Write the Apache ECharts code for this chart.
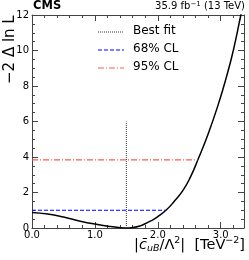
<!DOCTYPE html>
<html><head><meta charset="utf-8">
<script src="https://cdn.jsdelivr.net/npm/echarts@6/dist/echarts.min.js"></script>
<style>html,body{margin:0;padding:0;background:#fff}#c{width:249px;height:260px}</style>
</head><body><div id="c"></div>
<script>
const curveX = [0, 0.25, 0.5, 0.75, 1.0, 1.25, 1.4, 1.5, 1.6, 1.7, 1.8, 1.9, 2.0, 2.13, 2.25, 2.4, 2.52, 2.64, 2.8, 2.96, 3.09, 3.2, 3.32, 3.4];
const curveY = [0.88, 0.79, 0.62, 0.40, 0.22, 0.08, 0.02, 0.0, 0.03, 0.10, 0.24, 0.42, 0.64, 1.0, 1.45, 2.12, 2.88, 3.87, 5.3, 6.95, 8.5, 10.0, 12.0, 13.3];
const bestFit = 1.5;
const bestFitTop = 6;
const cl68 = 1.0, cl68End = 2.13;
const cl95 = 3.84, cl95End = 2.63;
const xTicks = [0, 1, 2, 3];
const yTicks = [0, 2, 4, 6, 8, 10, 12];

const chart = echarts.init(document.getElementById('c'), null, {renderer: 'canvas'});
const FONT = 'DejaVu Sans';
const axisCommon = {
  axisLine: {show: true, onZero: false, lineStyle: {color: '#444', width: 1}},
  axisTick: {show: true, inside: true, length: 6, lineStyle: {color: '#444'}},
  splitLine: {show: false},
  minorSplitLine: {show: false}
};
const option = {
  animation: false,
  grid: {left: 32, right: 5, top: 15, bottom: 32},
  xAxis: [
    Object.assign({type: 'value', min: 0, max: 3.37, interval: 1, position: 'bottom',
      axisLabel: {fontFamily: FONT, fontSize: 10, color: '#000', margin: 2, showMaxLabel: false,
        formatter: v => xTicks.includes(v) ? v.toFixed(1) : ''}}, axisCommon,
      {minorTick: {show: true, splitNumber: 5, length: 3, lineStyle: {color: '#444'}}}),
    Object.assign({type: 'value', min: 0, max: 3.37, interval: 1, position: 'top',
      axisLabel: {show: false}}, axisCommon,
      {minorTick: {show: true, splitNumber: 5, length: 3, lineStyle: {color: '#444'}}})
  ],
  yAxis: [
    Object.assign({type: 'value', min: 0, max: 12, interval: 2, position: 'left',
      axisLabel: {fontFamily: FONT, fontSize: 10, color: '#000', margin: 3,
        formatter: v => yTicks.includes(v) ? String(v) : ''}}, axisCommon,
      {minorTick: {show: true, splitNumber: 4, length: 3, lineStyle: {color: '#444'}}}),
    Object.assign({type: 'value', min: 0, max: 12, interval: 2, position: 'right',
      axisLabel: {show: false}}, axisCommon,
      {minorTick: {show: true, splitNumber: 4, length: 3, lineStyle: {color: '#444'}}})
  ],
  series: [
    {type: 'line', data: curveX.map((x, i) => [x, curveY[i]]), smooth: 0.5, showSymbol: false,
      clip: true, lineStyle: {color: '#000', width: 1.5}},
    {type: 'line', data: [[bestFit, 0], [bestFit, bestFitTop]], showSymbol: false,
      lineStyle: {color: '#333', width: 1, type: [1, 1]}},
    {type: 'line', data: [[0, cl68], [cl68End, cl68]], showSymbol: false,
      lineStyle: {color: '#0000ff', width: 1.2, type: [4, 2]}},
    {type: 'line', data: [[0, cl95], [cl95End, cl95]], showSymbol: false,
      lineStyle: {color: '#ff5a4a', width: 1.2, type: [6, 2, 1, 2]}}
  ],
  graphic: [
    {type: 'text', left: 33, top: 0, style: {text: 'CMS', font: 'bold 11.5px ' + FONT, fill: '#000'}},
    {type: 'text', right: 4, top: 1, style: {
      text: '{a|35.9 fb}{s|−1}{a| (13 TeV)}',
      rich: {a: {fontFamily: FONT, fontSize: 10, fill: '#000'},
             s: {fontFamily: FONT, fontSize: 7, fill: '#000', verticalAlign: 'top', padding: [0,0,3,0]}}}},
    {type: 'text', x: 3, y: 84, rotation: Math.PI / 2, style: {
      text: '−2 Δ ln L', font: '15px ' + FONT, fill: '#000', textAlign: 'left', verticalAlign: 'top'}},
    {type: 'text', right: 4, top: 236, style: {
      text: '{m||}{i|c̄}{sb|uB}{m|/Λ}{sp|2}{m||  [TeV}{sp|−2}{m|]}',
      rich: {m: {fontFamily: FONT, fontSize: 14.5, fill: '#000', verticalAlign: 'middle'},
             i: {fontFamily: FONT, fontSize: 14.5, fontStyle: 'italic', fill: '#000'},
             sb: {fontFamily: FONT, fontSize: 9.5, fontStyle: 'italic', fill: '#000', padding: [8, 0, 0, 0]},
             sp: {fontFamily: FONT, fontSize: 9.5, fill: '#000', padding: [0, 0, 8, 0]}}}},
    {type: 'line', shape: {x1: 98, y1: 32, x2: 124, y2: 32}, style: {stroke: '#333', lineWidth: 1, lineDash: [1, 1]}},
    {type: 'line', shape: {x1: 98, y1: 50, x2: 124, y2: 50}, style: {stroke: '#0000ff', lineWidth: 1.2, lineDash: [4, 2]}},
    {type: 'line', shape: {x1: 98, y1: 68, x2: 124, y2: 68}, style: {stroke: '#ff5a4a', lineWidth: 1.2, lineDash: [6, 2, 1, 2]}},
    {type: 'text', left: 133, top: 25, style: {text: 'Best fit', font: '12px ' + FONT, fill: '#000'}},
    {type: 'text', left: 133, top: 43, style: {text: '68% CL', font: '12px ' + FONT, fill: '#000'}},
    {type: 'text', left: 133, top: 61, style: {text: '95% CL', font: '12px ' + FONT, fill: '#000'}}
  ]
};
chart.setOption(option);
</script></body></html>
